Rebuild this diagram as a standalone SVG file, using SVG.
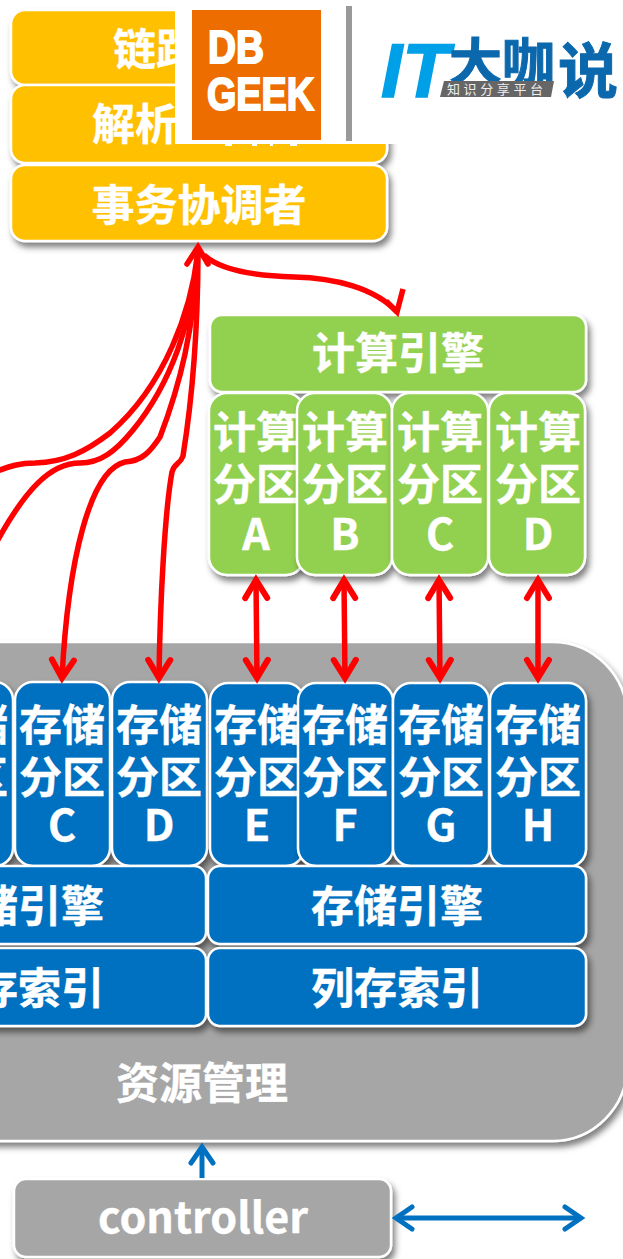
<svg xmlns="http://www.w3.org/2000/svg" width="623" height="1259" viewBox="0 0 623 1259">
<defs>
<filter id="sh" x="-10%" y="-10%" width="125%" height="130%"><feDropShadow dx="3" dy="5" stdDeviation="3" flood-color="#000" flood-opacity="0.5"/></filter>
<marker id="rh" markerUnits="userSpaceOnUse" markerWidth="30" markerHeight="30" refX="24" refY="15" orient="auto-start-reverse" overflow="visible"><path d="M6 4 L24 15 L6 26" fill="none" stroke="#f00" stroke-width="6" stroke-linecap="round"/></marker>
<marker id="bh" markerUnits="userSpaceOnUse" markerWidth="30" markerHeight="30" refX="24" refY="15" orient="auto-start-reverse" overflow="visible"><path d="M8 4 L24 15 L8 26" fill="none" stroke="#0070c0" stroke-width="5" stroke-linecap="round"/></marker>
</defs>
<style>
text{font-family:"Noto Sans CJK SC","Noto Sans",sans-serif;font-weight:700;fill:#fff;text-anchor:middle}
.b{stroke:#fff;stroke-width:2.5;filter:url(#sh)}
.gold{fill:#ffc000}.green{fill:#92d050}.blue{fill:#0070c0}.gray{fill:#a6a6a6}
.t{font-size:43px;stroke:#fff;stroke-width:.4}
.red{fill:none;stroke:#f00;stroke-width:5.5}
.dbl{marker-start:url(#rh);marker-end:url(#rh)}
.blu{fill:none;stroke:#0070c0;stroke-width:5}
.l{font-family:"Liberation Sans",sans-serif;text-anchor:start;stroke:#fff;stroke-width:2}
</style>
<rect width="623" height="1259" fill="#fff"/>
<g id="resource"><rect class="b gray" x="-100" y="642" width="727" height="499" rx="75"/><text class="t" x="202" y="1099">资源管理</text></g>
<g id="link"><rect class="b gold" x="11" y="10" width="376" height="75" rx="14"/><text class="t" x="113" y="65" style="text-anchor:start">链路</text></g>
<g id="parse"><rect class="b gold" x="11" y="85" width="376" height="78" rx="14"/><text class="t" x="92" y="140" style="text-anchor:start">解析</text></g>
<g id="coord"><rect class="b gold" x="11" y="165" width="376" height="76" rx="14"/><text class="t" x="199" y="221">事务协调者</text></g>
<g id="compute"><rect class="b green" x="210" y="315" width="376" height="77" rx="12"/><text class="t" x="398" y="369">计算引擎</text></g>
<g id="cp-a"><rect class="b green" x="209" y="393" width="95" height="182" rx="18"/><text class="t" x="256" y="448">计算</text><text class="t" x="256" y="500">分区</text><text class="t" x="256" y="550">A</text></g>
<g id="cp-b"><rect class="b green" x="297" y="393" width="95" height="182" rx="18"/><text class="t" x="345" y="448">计算</text><text class="t" x="345" y="500">分区</text><text class="t" x="345" y="550">B</text></g>
<g id="cp-c"><rect class="b green" x="392" y="393" width="96" height="182" rx="18"/><text class="t" x="440" y="448">计算</text><text class="t" x="440" y="500">分区</text><text class="t" x="440" y="550">C</text></g>
<g id="cp-d"><rect class="b green" x="489" y="393" width="96" height="182" rx="18"/><text class="t" x="538" y="448">计算</text><text class="t" x="538" y="500">分区</text><text class="t" x="538" y="550">D</text></g>
<g id="sp-b"><rect class="b blue" x="-82" y="682" width="95" height="184" rx="18"/><text class="t" x="-35" y="741">存储</text><text class="t" x="-35" y="793">分区</text></g>
<g id="sp-c"><rect class="b blue" x="15" y="682" width="95" height="184" rx="18"/><text class="t" x="62" y="741">存储</text><text class="t" x="62" y="793">分区</text><text class="t" x="62" y="841">C</text></g>
<g id="sp-d"><rect class="b blue" x="112" y="682" width="95" height="184" rx="18"/><text class="t" x="159" y="741">存储</text><text class="t" x="159" y="793">分区</text><text class="t" x="159" y="841">D</text></g>
<g id="sp-e"><rect class="b blue" x="210" y="683" width="94" height="183" rx="18"/><text class="t" x="257" y="741">存储</text><text class="t" x="257" y="793">分区</text><text class="t" x="257" y="841">E</text></g>
<g id="sp-f"><rect class="b blue" x="298" y="683" width="95" height="183" rx="18"/><text class="t" x="345" y="741">存储</text><text class="t" x="345" y="793">分区</text><text class="t" x="345" y="841">F</text></g>
<g id="sp-g"><rect class="b blue" x="393" y="683" width="96" height="183" rx="18"/><text class="t" x="441" y="741">存储</text><text class="t" x="441" y="793">分区</text><text class="t" x="441" y="841">G</text></g>
<g id="sp-h"><rect class="b blue" x="490" y="683" width="96" height="184" rx="18"/><text class="t" x="538" y="741">存储</text><text class="t" x="538" y="793">分区</text><text class="t" x="538" y="841">H</text></g>
<g id="se-l"><rect class="b blue" x="-170" y="866" width="376" height="78" rx="12"/><text class="t" x="18" y="922">存储引擎</text></g>
<g id="se-r"><rect class="b blue" x="208" y="866" width="378" height="78" rx="12"/><text class="t" x="397" y="922">存储引擎</text></g>
<g id="ci-l"><rect class="b blue" x="-170" y="948" width="376" height="78" rx="12"/><text class="t" x="18" y="1004">列存索引</text></g>
<g id="ci-r"><rect class="b blue" x="208" y="948" width="378" height="78" rx="12"/><text class="t" x="397" y="1004">列存索引</text></g>
<g id="controller"><rect class="b gray" x="14" y="1179" width="377" height="78" rx="12"/><text class="t" x="203" y="1233">controller</text></g>
<g id="connectors">
<path class="red" d="M198 250 C192 310 165 385 110 433 C85 452 65 462 35 463 C20 463 10 466 -5 472"/>
<path class="red" d="M198 250 C194 320 170 385 133 430 C115 452 100 463 80 463 C50 463 25 490 -5 545"/>
<path class="red" d="M198 250 C194 330 180 385 160 437 C150 452 142 461 125 462 C90 470 68 560 62 678" marker-end="url(#rh)"/>
<path class="red" d="M198 250 C198 330 192 400 183 456 C180 465 175 462 172 472 C165 510 160 600 159 678" marker-end="url(#rh)"/>
<path class="red" d="M187 264 L198 247 L208 264" stroke-width="6" stroke-linecap="round"/>
<path class="red" d="M204 255 C222 272 260 276 294 277 C335 278 375 288 397 312"/>
<path class="red" d="M403 289 L397 312 L386 301" stroke-width="4"/>
<path class="red dbl" d="M256 580 L257 678"/>
<path class="red dbl" d="M344 580 L345 678"/>
<path class="red dbl" d="M439 580 L440 678"/>
<path class="red dbl" d="M538 580 L538 678"/>
<path class="blu" d="M202 1178 L202 1147" marker-end="url(#bh)"/>
<path class="blu" d="M396 1218 L581 1218" marker-start="url(#bh)" marker-end="url(#bh)"/>
</g>
<g id="logo">
<rect x="175" y="0" width="448" height="144" fill="#fff"/>
<path d="M225 144h7v2h-7zM252 144h5v2h-5zM270 144h3v2h-3zM290 144h7v2h-7z" fill="#fff"/>
<rect x="192" y="10" width="129" height="130" fill="#ed6d00"/>
<text class="l" x="208" y="63" style="font-size:46px" textLength="56" lengthAdjust="spacingAndGlyphs">DB</text>
<text class="l" x="207" y="110" style="font-size:46px" textLength="107" lengthAdjust="spacingAndGlyphs">GEEK</text>
<rect x="346" y="6" width="6" height="135" fill="#999"/>
<text x="381" y="97" style="font-size:76px;font-style:italic;fill:#00a0e9;stroke:#00a0e9;stroke-width:1.5;text-anchor:start;font-family:'Liberation Sans',sans-serif" textLength="68" lengthAdjust="spacingAndGlyphs">IT</text>
<text x="449" y="80" style="font-size:50px;fill:#0b68ad;stroke:#0b68ad;stroke-width:1;text-anchor:start" textLength="106" lengthAdjust="spacingAndGlyphs">大咖</text>
<text x="588" y="93" style="font-size:60px;fill:#0b68ad;stroke:#0b68ad;stroke-width:1">说</text>
<polygon points="444,81 554,81 551,97 440,97" fill="#666"/>
<text x="495" y="94" style="font-size:13px;font-weight:400;fill:#eee" textLength="96">知识分享平台</text>
</g>
</svg>
